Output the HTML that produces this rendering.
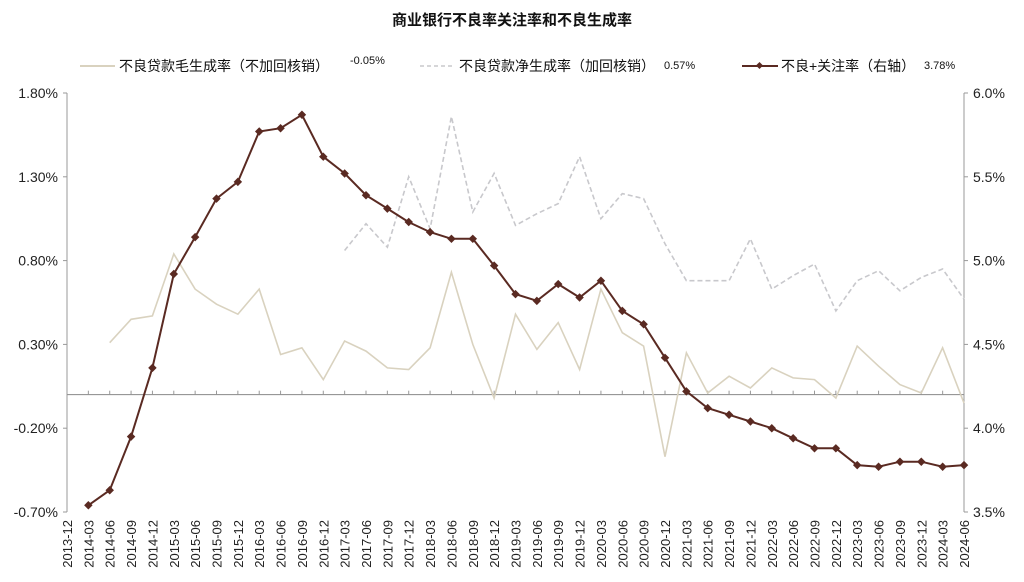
<!DOCTYPE html>
<html><head><meta charset="utf-8">
<style>
html,body{margin:0;padding:0;background:#fff;}
svg{display:block;font-family:"Liberation Sans","Noto Sans CJK SC",sans-serif;}
</style></head>
<body>
<svg id="chart" width="1024" height="582" viewBox="0 0 1024 582">
<text x="512" y="25" text-anchor="middle" font-size="15" font-weight="bold" fill="#111">商业银行不良率关注率和不良生成率</text>
<g>
<g>
<line x1="80" y1="66" x2="115" y2="66" stroke="#d9d2bf" stroke-width="2"/>
<text x="119" y="71" font-size="14" fill="#111">不良贷款毛生成率（不加回核销）</text>
<text x="350" y="64" font-size="11" fill="#111">-0.05%</text>
</g>
<g>
<line x1="420" y1="66" x2="455" y2="66" stroke="#c8c8cc" stroke-width="1.5" stroke-dasharray="4,3"/>
<text x="459" y="71" font-size="14" fill="#111">不良贷款净生成率（加回核销）</text>
<text x="664" y="69" font-size="11" fill="#111">0.57%</text>
</g>
<g>
<line x1="742" y1="66" x2="778" y2="66" stroke="#5a2a22" stroke-width="2"/>
<rect x="757" y="63" width="5" height="5" fill="#5a2a22" transform="rotate(45 759.5 65.5)"/>
<text x="781" y="71" font-size="14" fill="#111">不良+关注率（右轴）</text>
<text x="924" y="69" font-size="11" fill="#111">3.78%</text>
</g>
</g>
<g id="axes"></g>
<g id="series"></g>
</svg>
<script>
const categories=["2013-12","2014-03","2014-06","2014-09","2014-12","2015-03","2015-06","2015-09","2015-12","2016-03","2016-06","2016-09","2016-12","2017-03","2017-06","2017-09","2017-12","2018-03","2018-06","2018-09","2018-12","2019-03","2019-06","2019-09","2019-12","2020-03","2020-06","2020-09","2020-12","2021-03","2021-06","2021-09","2021-12","2022-03","2022-06","2022-09","2022-12","2023-03","2023-06","2023-09","2023-12","2024-03","2024-06"];
const grossRate=[null,null,0.31,0.45,0.47,0.84,0.63,0.54,0.48,0.63,0.24,0.28,0.09,0.32,0.26,0.16,0.15,0.28,0.73,0.30,-0.02,0.48,0.27,0.43,0.15,0.63,0.37,0.29,-0.37,0.25,0.01,0.11,0.04,0.16,0.10,0.09,-0.02,0.29,0.17,0.06,0.01,0.28,-0.05];
const netRate=[null,null,null,null,null,null,null,null,null,null,null,null,null,0.86,1.02,0.88,1.30,0.99,1.66,1.09,1.32,1.01,1.08,1.14,1.42,1.05,1.20,1.17,0.90,0.68,0.68,0.68,0.93,0.63,0.71,0.78,0.50,0.68,0.74,0.62,0.70,0.75,0.57];
const nplSmRate=[null,3.54,3.63,3.95,4.36,4.92,5.14,5.37,5.47,5.77,5.79,5.87,5.62,5.52,5.39,5.31,5.23,5.17,5.13,5.13,4.97,4.80,4.76,4.86,4.78,4.88,4.70,4.62,4.42,4.22,4.12,4.08,4.04,4.00,3.94,3.88,3.88,3.78,3.77,3.80,3.80,3.77,3.78];
const leftTicks=[-0.7,-0.2,0.3,0.8,1.3,1.8];
const rightTicks=[3.5,4.0,4.5,5.0,5.5,6.0];

const NS="http://www.w3.org/2000/svg";
const X0=67,X1=964,YT=93,YB=512;
const xS=i=>X0+(X1-X0)*i/(categories.length-1);
const yL=v=>YB-(v-(-0.7))/(2.5)*(YB-YT);
const yR=v=>YB-(v-3.5)/(2.5)*(YB-YT);
const axes=document.getElementById('axes'),series=document.getElementById('series');
function mk(tag,attrs,parent){const e=document.createElementNS(NS,tag);for(const k in attrs)e.setAttribute(k,attrs[k]);parent.appendChild(e);return e;}

let e=mk('line',{x1:X0,y1:YT,x2:X0,y2:YB,stroke:'#999'},axes);


e=mk('line',{x1:X1,y1:YT,x2:X1,y2:YB,stroke:'#999'},axes);


e=mk('line',{x1:X0,y1:yL(0),x2:X1,y2:yL(0),stroke:'#888'},axes);


leftTicks.forEach(v=>{
  mk('line',{x1:X0-4,y1:yL(v),x2:X0,y2:yL(v),stroke:'#999'},axes);
  const t=mk('text',{x:X0-9,y:yL(v)+5,'text-anchor':'end','font-size':14,fill:'#222'},axes);
  t.textContent=v.toFixed(2)+'%';
  
  
});
rightTicks.forEach(v=>{
  mk('line',{x1:X1,y1:yR(v),x2:X1+4,y2:yR(v),stroke:'#999'},axes);
  const t=mk('text',{x:X1+9,y:yR(v)+5,'font-size':14,fill:'#222'},axes);
  t.textContent=v.toFixed(1)+'%';
  
  
});
categories.forEach((c,i)=>{
  const x=xS(i);
  mk('line',{x1:x,y1:yL(0),x2:x,y2:yL(0)-4,stroke:'#999'},axes);
  const t=mk('text',{x:0,y:0,'text-anchor':'end','font-size':13,fill:'#222',transform:`translate(${x+5},520) rotate(-90)`},axes);
  t.textContent=c;
  
  
});
function pathFor(arr,yf){let d='';let pen=false;arr.forEach((v,i)=>{if(v==null){pen=false;return;}d+=(pen?'L':'M')+xS(i).toFixed(1)+','+yf(v).toFixed(1);pen=true;});return d;}
e=mk('path',{d:pathFor(grossRate,yL),fill:'none',stroke:'#d9d2bf','stroke-width':1.6},series);


e=mk('path',{d:pathFor(netRate,yL),fill:'none',stroke:'#c8c8cc','stroke-width':1.6,'stroke-dasharray':'5,3'},series);


e=mk('path',{d:pathFor(nplSmRate,yR),fill:'none',stroke:'#5a2a22','stroke-width':2},series);


nplSmRate.forEach((v,i)=>{
  if(v==null)return;
  const x=xS(i),y=yR(v);
  const p=mk('rect',{x:x-3,y:y-3,width:6,height:6,fill:'#5a2a22',transform:`rotate(45 ${x} ${y})`},series);
  
  
});
</script>
</body></html>
